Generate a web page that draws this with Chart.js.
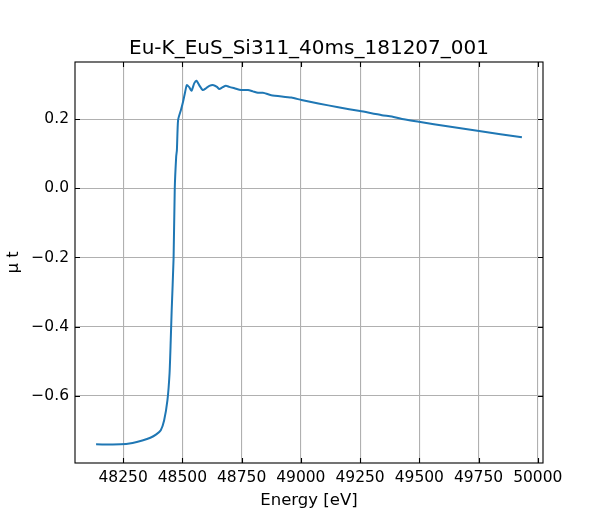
<!DOCTYPE html>
<html>
<head>
<meta charset="utf-8">
<script src="https://cdn.jsdelivr.net/npm/chart.js@4/dist/chart.umd.min.js"></script>
<style>
  html, body { margin: 0; padding: 0; background: #fff; }
  #wrap { width: 600px; height: 520px; }
</style>
</head>
<body>
<div id="wrap"><canvas id="my-chart" width="600" height="520"></canvas></div>
<script>
const chartTitle = "Eu-K_EuS_Si311_40ms_181207_001";
const energy = [48136, 48239, 48290, 48331, 48365, 48390, 48409, 48423, 48437, 48446, 48451, 48455, 48463, 48468, 48474, 48477, 48482, 48494,
  48503, 48512, 48519, 48529, 48539, 48550, 48560, 48571, 48586, 48600, 48614, 48632, 48646, 48656, 48670, 48684, 48698,
  48720, 48748, 48777, 48798, 48819, 48840, 48847, 48875, 48960, 49003, 49074, 49158, 49250, 49342, 49384, 49427, 49498,
  49625, 49752, 49933];
const muT = [-0.741, -0.741, -0.737, -0.730, -0.722, -0.712, -0.700, -0.672, -0.614, -0.536, -0.440, -0.353, -0.203, 0.000, 0.092, 0.111, 0.198, 0.227,
  0.251, 0.280, 0.299, 0.293, 0.283, 0.304, 0.312, 0.299, 0.285, 0.290, 0.297, 0.299, 0.294, 0.288, 0.293, 0.297, 0.294,
  0.290, 0.285, 0.285, 0.281, 0.277, 0.277, 0.276, 0.270, 0.263, 0.256, 0.246, 0.235, 0.224, 0.212, 0.208, 0.201, 0.193,
  0.179, 0.166, 0.148];
const xTicks = [48250, 48500, 48750, 49000, 49250, 49500, 49750, 50000];
const yTicks = [-0.6, -0.4, -0.2, 0.0, 0.2];

const fontFamily = "'DejaVu Sans', sans-serif";

// matplotlib-like frame, inward ticks and title
const framePlugin = {
  id: 'frame',
  afterDraw(chart) {
    const c = chart.ctx, a = chart.chartArea;
    const xs = chart.scales.x, ys = chart.scales.y;
    c.save();
    c.strokeStyle = '#000';
    c.lineWidth = 1.1;
    c.beginPath();
    xTicks.forEach(v => {
      const px = Math.round(xs.getPixelForValue(v)) + 0.5;
      c.moveTo(px, a.bottom); c.lineTo(px, a.bottom - 5);
      c.moveTo(px, a.top); c.lineTo(px, a.top + 5);
    });
    yTicks.forEach(v => {
      const py = Math.round(ys.getPixelForValue(v)) + 0.5;
      c.moveTo(a.left, py); c.lineTo(a.left + 5, py);
      c.moveTo(a.right, py); c.lineTo(a.right - 5, py);
    });
    c.stroke();
    c.strokeRect(a.left, a.top, a.right - a.left, a.bottom - a.top);
    c.fillStyle = '#000';
    c.font = '20px ' + fontFamily;
    c.textAlign = 'center';
    c.textBaseline = 'alphabetic';
    c.fillText(chartTitle, (a.left + a.right) / 2, a.top - 8);
    c.restore();
  }
};

const ctx = document.getElementById('my-chart').getContext('2d');
const myChart = new Chart(ctx, {
  type: 'line',
  data: {
    datasets: [{
      data: energy.map((e, i) => ({ x: e, y: muT[i] })),
      borderColor: '#1f77b4',
      borderWidth: 2,
      pointRadius: 0,
      tension: 0.2,
      fill: false
    }]
  },
  options: {
    responsive: false,
    animation: false,
    devicePixelRatio: 1,
    layout: { padding: { left: 0, right: 57, top: 62, bottom: 9 } },
    plugins: { legend: { display: false }, title: { display: false }, tooltip: { enabled: false } },
    scales: {
      x: {
        type: 'linear',
        min: 48047,
        max: 50022,
        afterBuildTicks: s => { s.ticks = xTicks.map(v => ({ value: v })); },
        afterFit: s => { s.height = 48; },
        grid: { color: '#b0b0b0', lineWidth: 1.1, drawTicks: false },
        border: { display: false },
        ticks: { color: '#000', padding: 6, maxRotation: 0, autoSkip: false, font: { family: fontFamily, size: 15.5 },
          callback: v => String(v) },
        title: { display: true, text: 'Energy [eV]', color: '#000', padding: { top: 2, bottom: 0 }, font: { family: fontFamily, size: 16.5 } }
      },
      y: {
        type: 'linear',
        min: -0.795,
        max: 0.366,
        afterBuildTicks: s => { s.ticks = yTicks.map(v => ({ value: v })); },
        afterFit: s => { s.width = 75; },
        grid: { color: '#b0b0b0', lineWidth: 1.1, drawTicks: false },
        border: { display: false },
        ticks: { color: '#000', padding: 6, autoSkip: false, font: { family: fontFamily, size: 15.5 },
          callback: v => v.toFixed(1).replace('-', '\u2212') },
        title: { display: true, text: '\u03bc t', color: '#000', padding: { top: 4 }, font: { family: fontFamily, size: 16.5 } }
      }
    }
  },
  plugins: [framePlugin]
});
</script>
</body>
</html>
